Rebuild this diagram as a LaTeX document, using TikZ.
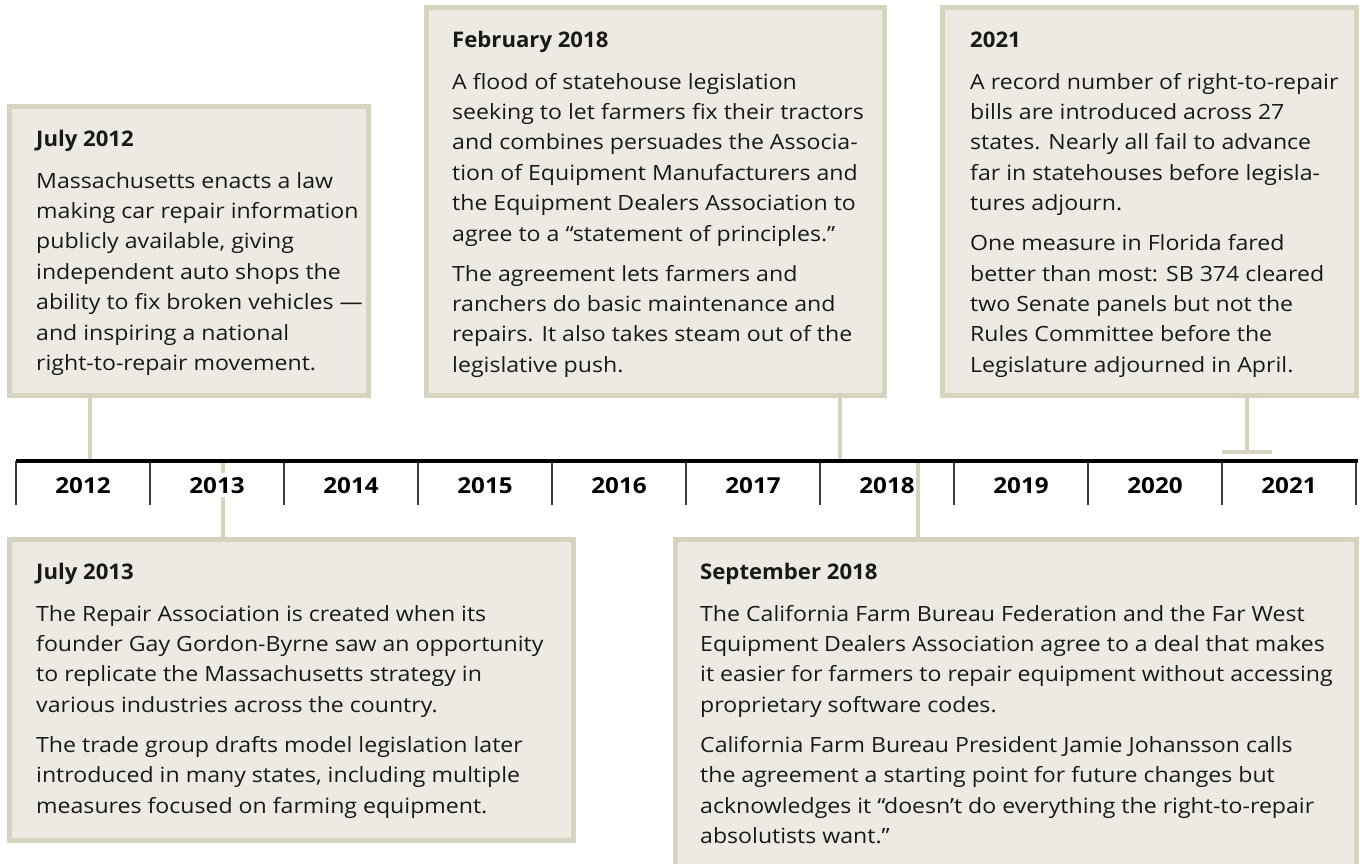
\documentclass[tikz,border=0pt]{standalone}
\usepackage{fontspec}
\setmainfont{Open Sans}[FakeStretch=1.1]
\newfontfamily\ttlfont{Open Sans}[FakeStretch=1.03]
\definecolor{boxfill}{RGB}{236,234,226}
\definecolor{boxline}{RGB}{214,211,192}
\definecolor{txt}{RGB}{25,25,25}
\definecolor{tick}{RGB}{60,60,60}
\newcommand{\ttl}[1]{{\ttlfont\fontsize{21.5}{30.4}\selectfont\bfseries #1}}
\begin{document}
\begin{tikzpicture}[x=1pt,y=-1pt,
  evbox/.style={draw=boxline,line width=5pt,fill=boxfill,rectangle,anchor=north west,inner sep=0pt,outer sep=0pt},
  evtext/.style={anchor=base west,align=left,inner sep=0pt,text=txt,font=\fontsize{21}{30.4}\selectfont},
  conn/.style={draw=boxline,line width=4.5pt},
  yearlbl/.style={fill=white,inner xsep=3pt,inner ysep=4pt,text=black,font=\fontsize{22}{26}\selectfont\bfseries},
  tickline/.style={draw=tick,line width=1.3pt},
  axis/.style={draw=black,line width=3.5pt}]
\useasboundingbox (0,0) rectangle (1360,863);
\begin{scope}
\clip (0,0) rectangle (1360,863);
% boxes
\node[evbox,minimum width=359pt,minimum height=289pt] (b1) at (9.5,106.5) {};
\node[evbox,minimum width=458pt,minimum height=388pt] (b2) at (426.5,7.5) {};
\node[evbox,minimum width=414pt,minimum height=388pt] (b3) at (942.5,7.5) {};
\node[evbox,minimum width=564pt,minimum height=301pt] (b4) at (9.5,539.5) {};
\node[evbox,minimum width=681pt,minimum height=330pt] (b5) at (675.5,539.5) {};
\end{scope}
% texts (anchored at the baseline of the last line)
\node[evtext] (t1) at (36,370.4) {\ttl{July 2012}\\[11.6pt]
Massachusetts enacts a law\\
making car repair information\\
publicly available, giving\\
independent auto shops the\\
ability to fix broken vehicles —\\
and inspiring a national\\
right-to-repair movement.};
\node[evtext] (t2) at (452,372.2) {\ttl{February 2018}\\[11.6pt]
A flood of statehouse legislation\\
seeking to let farmers fix their tractors\\
and combines persuades the Associa-\\
tion of Equipment Manufacturers and\\
the Equipment Dealers Association to\\
agree to a “statement of principles.”\\[9.6pt]
The agreement lets farmers and\\
ranchers do basic maintenance and\\
repairs. It also takes steam out of the\\
legislative push.};
\node[evtext] (t3) at (970,372.2) {\ttl{2021}\\[11.6pt]
A record number of right-to-repair\\
bills are introduced across 27\\
states. Nearly all fail to advance\\
far in statehouses before legisla-\\
tures adjourn.\\[9.6pt]
One measure in Florida fared\\
better than most: SB 374 cleared\\
two Senate panels but not the\\
Rules Committee before the\\
Legislature adjourned in April.};
\node[evtext] (t4) at (36,813) {\ttl{July 2013}\\[11.6pt]
The Repair Association is created when its\\
founder Gay Gordon-Byrne saw an opportunity\\
to replicate the Massachusetts strategy in\\
various industries across the country.\\[9.6pt]
The trade group drafts model legislation later\\
introduced in many states, including multiple\\
measures focused on farming equipment.};
\node[evtext] (t5) at (700,843.4) {\ttl{September 2018}\\[11.6pt]
The California Farm Bureau Federation and the Far West\\
Equipment Dealers Association agree to a deal that makes\\
it easier for farmers to repair equipment without accessing\\
proprietary software codes.\\[9.6pt]
California Farm Bureau President Jamie Johansson calls\\
the agreement a starting point for future changes but\\
acknowledges it “doesn’t do everything the right-to-repair\\
absolutists want.”};
% timeline anchor coordinates
\coordinate (axL) at (16,461);
\coordinate (axR) at (1358,461);
\coordinate (c1) at (90,461);
\coordinate (c2) at (840,461);
\coordinate (c3) at (1247,452);
\coordinate (c4) at (223,461);
\coordinate (c5) at (918,461);
\coordinate (barL) at (1222,452);
\coordinate (barR) at (1272,452);
% connectors
\draw[conn] (b1.south -| c1) -- (c1);
\draw[conn] (b2.south -| c2) -- (c2);
\draw[conn] (b3.south -| c3) -- (c3);
\draw[conn,line width=4pt] (barL) -- (barR);
\draw[conn] (c4) -- (b4.north -| c4);
% ticks
\foreach \i in {0,...,10}{
  \coordinate (tk\i) at (16+134*\i,461);
  \draw[tickline] (tk\i) -- ++(0,44);
}
% year labels
\foreach \y [count=\i from 0] in {2012,2013,2014,2015,2016,2017,2018,2019,2020,2021}{
  \node[yearlbl,anchor=base] (yr\y) at (83+134*\i,493) {\y};
}
\draw[conn] (c5) -- (b5.north -| c5);
\draw[axis] (axL) -- (axR);
\end{tikzpicture}
\end{document}
